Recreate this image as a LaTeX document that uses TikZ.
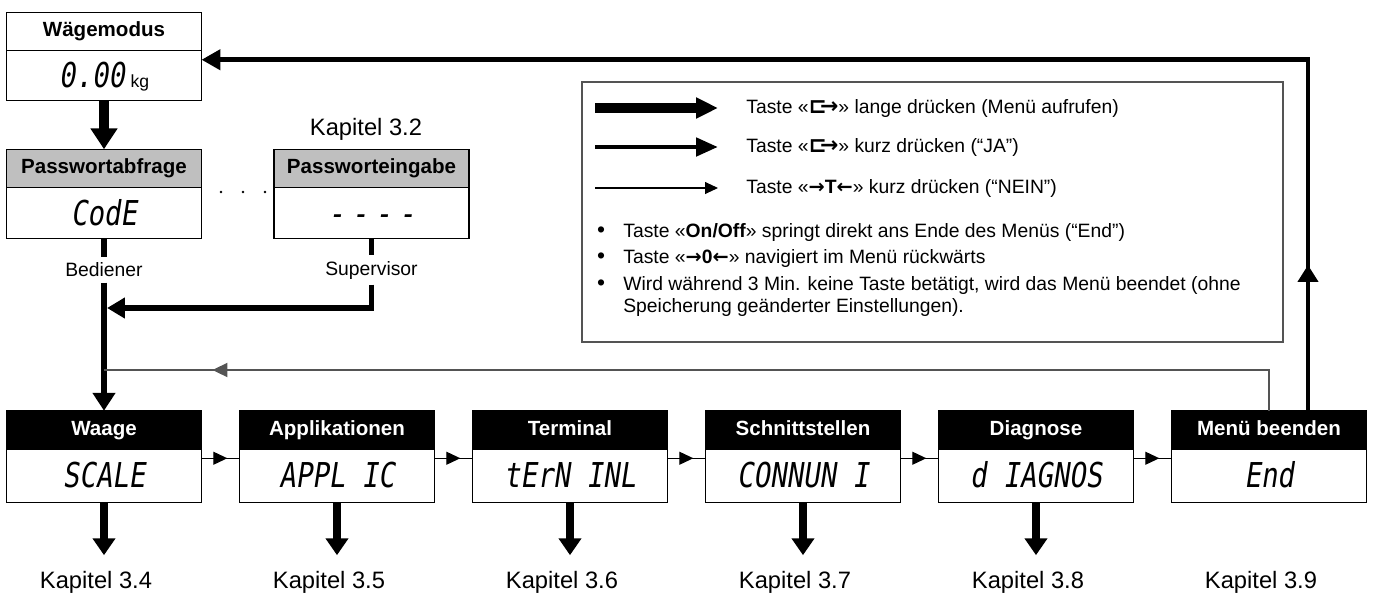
\documentclass[tikz,border=0pt]{standalone}
\usepackage{fontspec}
\setmainfont{Liberation Sans}
\newfontfamily\lcdfont{DejaVu Sans Mono}[FakeStretch=0.8,FakeSlant=0.15]
\newfontfamily\symfont{DejaVu Sans}
\usetikzlibrary{arrows.meta,positioning,decorations.markings}

\definecolor{hdrgray}{gray}{0.75}
\definecolor{linegray}{gray}{0.33}
\newcommand{\enterkey}{{\symfont\bfseries\fontsize{12.5}{12}\selectfont ⊏\kern-0.32em→}}
\newcommand{\tarekey}{{\symfont\bfseries →}\textbf{T}{\symfont\bfseries ←}}
\newcommand{\zerokey}{{\symfont\bfseries →}\textbf{0}{\symfont\bfseries ←}}

\begin{document}
\begin{tikzpicture}[x=0.02cm,y=-0.02cm,
  box/.style={draw,line width=0.8pt,outer sep=0pt,inner sep=0pt,minimum width=3.9cm},
  headbox/.style={box,minimum height=0.77cm,text height=8.6pt,text depth=2.4pt,
    font=\fontsize{11.7}{14}\selectfont\bfseries},
  lcdbox/.style={box,minimum height=1.02cm,text height=14.2pt,text depth=0.6pt,
    font=\lcdfont\fontsize{19.5}{22}\selectfont},
  kaplabel/.style={font=\fontsize{13.5}{16}\selectfont,inner sep=0pt},
  rolelabel/.style={font=\fontsize{11}{13}\selectfont,inner sep=3pt},
  legtext/.style={anchor=west,inner sep=0pt,font=\fontsize{11}{12.6}\selectfont},
  legdot/.style={anchor=base,inner sep=0pt,font=\fontsize{13}{13}\selectfont},
  fatarrow/.style={line width=5.7pt,-{Triangle[width=14.7pt,length=11.9pt]}},
  midline/.style={line width=3.4pt},
  kaparrow/.style={line width=4pt,-{Triangle[width=12.5pt,length=9.6pt]},shorten >=9pt},
  neinline/.style={line width=0.6pt,postaction={decorate},
    decoration={markings,mark=at position 0.68 with {\arrow{Triangle[width=7.4pt,length=8pt]}}}},
  backline/.style={draw=linegray,line width=1.1pt,postaction={decorate},
    decoration={markings,mark=at position 0.91 with {\arrow[linegray]{Triangle[width=8pt,length=8.5pt]}}}},
  retline/.style={line width=2.8pt,-{Triangle[width=11.3pt,length=10.8pt]},postaction={decorate},
    decoration={markings,mark=at position 0.1 with {\arrow{Triangle[width=11.3pt,length=9.6pt]}}}}
]
\useasboundingbox (0,0) rectangle (1374,599);

% Waegemodus and password
\node[headbox,fill=white] (wm-h) at (104,31.5) {Wägemodus};
\node[lcdbox,minimum height=1cm,below=0pt of wm-h] (wm) {0.00\,{\normalfont\fontsize{10}{12}\selectfont kg}};
\node[headbox,fill=hdrgray] (pa-h) at (104,168.5) {Passwortabfrage};
\node[lcdbox,below=0pt of pa-h] (pa) {CodE};
\node[headbox,fill=hdrgray] (pe-h) at (371.5,168.5) {Passworteingabe};
\node[lcdbox,below=0pt of pe-h] (pe) {\spaceskip=4pt - - - -};
\node[kaplabel] (k-pe) at (366,129) {Kapitel 3.2};
\foreach \x in {221,243,265}
  \fill (\x,192) circle (1.3);
\node[rolelabel] (bed) at (104,270) {Bediener};
\node[rolelabel] (sup) at (371.5,270) {Supervisor};

% menu row
\foreach \n/\ttl/\lcd/\kap [count=\i] in {waage/Waage/SCALE/3.4,appl/Applikationen/APPL IC/3.5,
    term/Terminal/tErN INL/3.6,comm/Schnittstellen/CONNUN I/3.7,diag/Diagnose/d IAGNOS/3.8,
    mend/Menü beenden/End/3.9}{
  \node[headbox,fill=black,text=white] (\n-h) at ({104+(\i-1)*233},430) {\ttl};
  \node[lcdbox,minimum height=1.06cm,below=0pt of \n-h] (\n) {\lcd};
  \node[kaplabel,anchor=north] (k-\n) at ({96+(\i-1)*233},571) {Kapitel \kap};
}
\foreach \n in {waage,appl,term,comm,diag}
  \draw[kaparrow] (\n.south) -- (\n.south |- k-\n.north);
\foreach \a/\b in {waage/appl,appl/term,term/comm,comm/diag,diag/mend}
  \draw[neinline] ([yshift=0.35cm]\a.east) -- ([yshift=0.35cm]\b.west);

% connectors
\draw[fatarrow] (wm.south) -- (pa-h.north);
\draw[midline] (pa.south) -- (bed.north);
\draw[midline,-{Triangle[width=12.5pt,length=10.2pt]}] (bed.south) -- (waage-h.north);
\draw[midline] (pe.south) -- (sup.north);
\coordinate (supjoin) at (107,308);
\draw[midline,-{Triangle[width=11.3pt,length=10.2pt]}] (sup.south) |- (supjoin);
\coordinate (backjoin) at (104,370);
\draw[backline] (mend-h.north) |- (backjoin);
\draw[retline] ([xshift=0.78cm]mend-h.north) |- ([yshift=0.32cm]wm.east);

% legend
\draw[linegray,line width=1.2pt] (582,82) rectangle (1283,342);
\draw[line width=5.7pt,-{Triangle[width=11.3pt,length=12.5pt]}] (595,108) -- (718,108);
\draw[line width=2.8pt,-{Triangle[width=10.2pt,length=12.5pt]}] (595,147) -- (718,147);
\draw[line width=0.6pt,-{Triangle[width=6.8pt,length=7.4pt]}] (595,188) -- (718,188);
\node[legtext] (leg1) at (746,108) {Taste «\enterkey» lange drücken (Menü aufrufen)};
\node[legtext] (leg2) at (746,147) {Taste «\enterkey» kurz drücken (“JA”)};
\node[legtext] (leg3) at (746,188) {Taste «\tarekey» kurz drücken (“NEIN”)};
\node[legtext] (leg4) at (623,232) {Taste «\textbf{On/Off}» springt direkt ans Ende des Menüs (“End”)};
\node[legtext] (leg5) at (623,258) {Taste «\zerokey» navigiert im Menü rückwärts};
\node[legtext,align=left,anchor=north west] (leg6) at (623,276)
  {Wird während 3 Min. keine Taste betätigt, wird das Menü beendet (ohne\\Speicherung geänderter Einstellungen).};
\node[legdot] (dot4) at ([xshift=-0.44cm]leg4.base west) {•};
\node[legdot] (dot5) at ([xshift=-0.44cm]leg5.base west) {•};
\node[legdot] (dot6) at (601,290.5) {•};
\end{tikzpicture}
\end{document}
